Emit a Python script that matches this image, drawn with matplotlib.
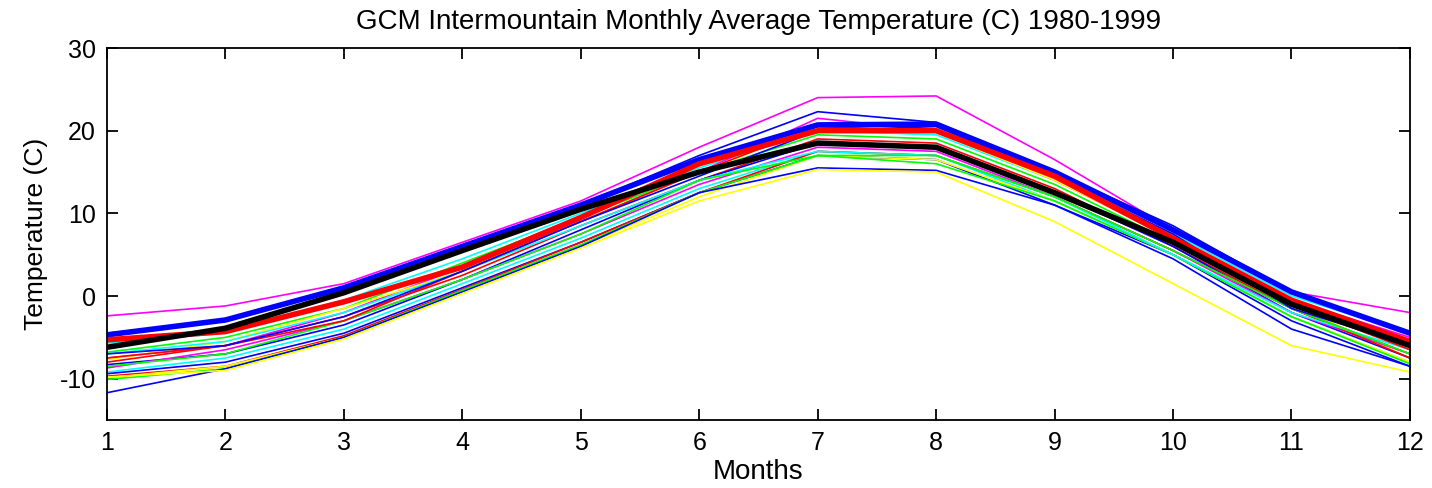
import numpy as np
import matplotlib
matplotlib.use("Agg")
import matplotlib.pyplot as plt

plt.rcParams["font.family"] = ["Liberation Sans", "DejaVu Sans"]
plt.rcParams["axes.unicode_minus"] = False

months = np.arange(1, 13)

# Individual GCM runs (thin lines), monthly mean temperature in C.
model_colors = ["#ff00ff", "#0000ff", "#00ffff", "#00ff00", "#ff00ff",
                "#ffff00", "#ff0000", "#0000ff", "#ff00ff", "#00ffff",
                "#0000ff", "#ff0000", "#ffff00", "#00ff00", "#0000ff",
                "#ffff00", "#00ffff", "#00ff00", "#ff0000", "#0000ff"]
model_temps = [
    [-2.4, -1.2, 1.5, 6.5, 11.5, 18.0, 24.0, 24.2, 16.5, 8.0, 0.5, -2.0],
    [-4.5, -3.0, 1.0, 6.0, 11.0, 17.0, 22.3, 21.0, 15.0, 8.5, 0.5, -4.5],
    [-5.7, -4.5, -0.5, 4.5, 10.0, 15.5, 20.0, 19.5, 14.0, 7.5, 0.0, -4.5],
    [-6.8, -5.0, -1.5, 4.0, 9.5, 15.0, 19.5, 19.0, 13.5, 6.5, -1.0, -6.0],
    [-7.5, -6.0, -2.0, 3.5, 9.0, 15.0, 21.5, 20.0, 14.0, 7.0, -0.5, -5.0],
    [-7.7, -5.5, -1.5, 3.0, 9.0, 15.0, 20.5, 19.8, 14.0, 7.0, -1.0, -7.5],
    [-8.0, -6.0, -2.5, 2.5, 8.5, 14.0, 19.0, 18.5, 13.0, 6.0, -1.5, -7.0],
    [-8.3, -7.0, -3.5, 2.0, 8.0, 14.0, 18.5, 18.0, 12.5, 6.0, -2.0, -7.5],
    [-8.7, -6.5, -3.0, 2.0, 7.5, 13.5, 18.0, 17.5, 12.0, 5.5, -2.0, -7.0],
    [-9.2, -7.5, -4.0, 1.5, 7.0, 13.0, 17.5, 17.0, 11.5, 5.0, -2.5, -8.0],
    [-9.4, -8.0, -4.5, 1.0, 6.5, 12.5, 17.0, 16.5, 11.0, 5.0, -3.0, -8.5],
    [-9.7, -8.5, -4.8, 0.8, 6.5, 12.5, 17.5, 17.0, 12.0, 5.5, -1.5, -7.5],
    [-9.9, -8.5, -5.0, 0.5, 6.0, 12.0, 17.0, 16.5, 11.5, 5.0, -2.5, -8.0],
    [-10.1, -8.8, -5.0, 0.7, 6.2, 12.5, 17.0, 16.0, 11.5, 5.0, -2.5, -8.2],
    [-11.7, -8.8, -5.0, 0.5, 6.0, 12.5, 15.5, 15.2, 11.0, 4.5, -4.0, -8.5],
    [-9.8, -9.0, -5.2, 0.3, 5.8, 11.5, 15.3, 15.0, 9.0, 1.5, -6.0, -9.2],
    [-7.0, -5.5, -2.0, 3.0, 8.5, 14.0, 17.5, 17.0, 12.0, 5.0, -2.0, -6.5],
    [-8.5, -7.0, -3.0, 2.0, 7.5, 14.0, 17.0, 17.0, 12.0, 5.5, -1.5, -7.0],
    [-7.5, -6.0, -3.0, 3.0, 9.0, 15.0, 20.5, 20.0, 14.5, 7.0, -1.0, -6.5],
    [-7.0, -6.0, -2.5, 3.0, 9.0, 14.5, 20.0, 20.5, 14.5, 7.5, -1.5, -6.0],
]

# Summary curves (thick lines).
thick_blue = [-4.7, -2.9, 1.0, 6.0, 11.0, 16.5, 20.7, 20.8, 15.0, 8.0, 0.5, -4.5]
thick_red = [-5.3, -4.3, -0.7, 3.5, 9.5, 16.0, 20.0, 20.0, 14.5, 7.0, -0.5, -5.5]
thick_black = [-6.2, -3.9, 0.4, 5.5, 10.5, 15.0, 18.5, 18.0, 12.5, 6.5, -1.0, -6.0]

fig = plt.figure(figsize=(14.32, 4.88), dpi=100)
ax = fig.add_axes([0.0747, 0.1393, 0.9099, 0.7623])

for c, t in zip(model_colors, model_temps):
    ax.plot(months, t, color=c, lw=1.2)

ax.plot(months, thick_blue, color="#0000ff", lw=4)
ax.plot(months, thick_red, color="#ff0000", lw=4)
ax.plot(months, thick_black, color="k", lw=4)

ax.set_xlim(1, 12)
ax.set_ylim(-15, 30)
ax.set_xticks(months)
ax.set_yticks([-10, 0, 10, 20, 30])
for s in ax.spines.values():
    s.set_linewidth(1.3)
ax.tick_params(direction="in", top=True, right=True, length=8, width=1.3,
               labelsize=18, pad=8)
ax.set_title("GCM Intermountain Monthly Average Temperature (C) 1980-1999",
             fontsize=20, pad=14)
ax.set_xlabel("Months", fontsize=20, labelpad=3)
ax.set_ylabel("Temperature (C)", fontsize=19, labelpad=8)

fig.savefig("out.png", dpi=100)
